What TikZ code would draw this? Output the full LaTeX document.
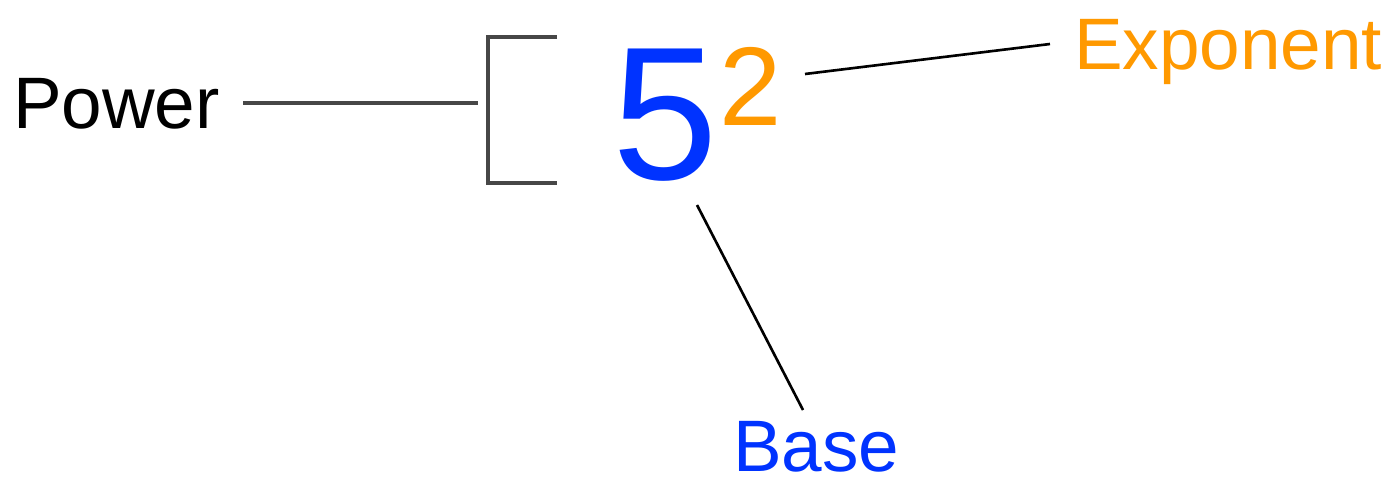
\documentclass[tikz,border=0pt]{standalone}
\usepackage{fontspec}
\setmainfont{Liberation Sans}
\definecolor{baseblue}{HTML}{0033FF}
\definecolor{exporange}{HTML}{FF9900}
\definecolor{brackgray}{HTML}{474747}
\begin{document}
\begin{tikzpicture}[x=0.02cm,y=-0.02cm,
  lbl/.style={inner sep=0pt,outer sep=0pt,anchor=base west,font=\fontsize{41.5}{48}\selectfont},
  leader/.style={line width=1.5pt,black},
  brack/.style={line width=2pt,brackgray}]
\useasboundingbox[fill=white] (0,0) rectangle (1391,480);
\node[lbl] (power) at (13,128) {Power};
\node[lbl,text=exporange] (expo) at (1074,69) {Exponent};
\node[lbl,text=baseblue] (base) at (733,471) {Base};
\node[inner sep=0pt,anchor=base west,text=baseblue,font=\fontsize{108}{120}\selectfont] (five) at (612,179) {5};
\node[inner sep=0pt,anchor=base west,text=exporange,font=\fontsize{63.7}{70}\selectfont] (two) at (719,125) {2};
% bracket
\coordinate (bt) at (557,37);
\coordinate (bb) at (557,183);
\coordinate (bm) at (478,103);
\coordinate (pw) at (243,103);
\draw[brack] (bt) -- (488,37) -- (488,183) -- (bb);
\draw[brack] (pw) -- (bm);
% leaders
\coordinate (e1) at (805,74);
\coordinate (e2) at (1050,44);
\coordinate (b1) at (697,205);
\coordinate (b2) at (803,410);
\draw[leader] (e1) -- (e2);
\draw[leader] (b1) -- (b2);
\end{tikzpicture}
\end{document}
